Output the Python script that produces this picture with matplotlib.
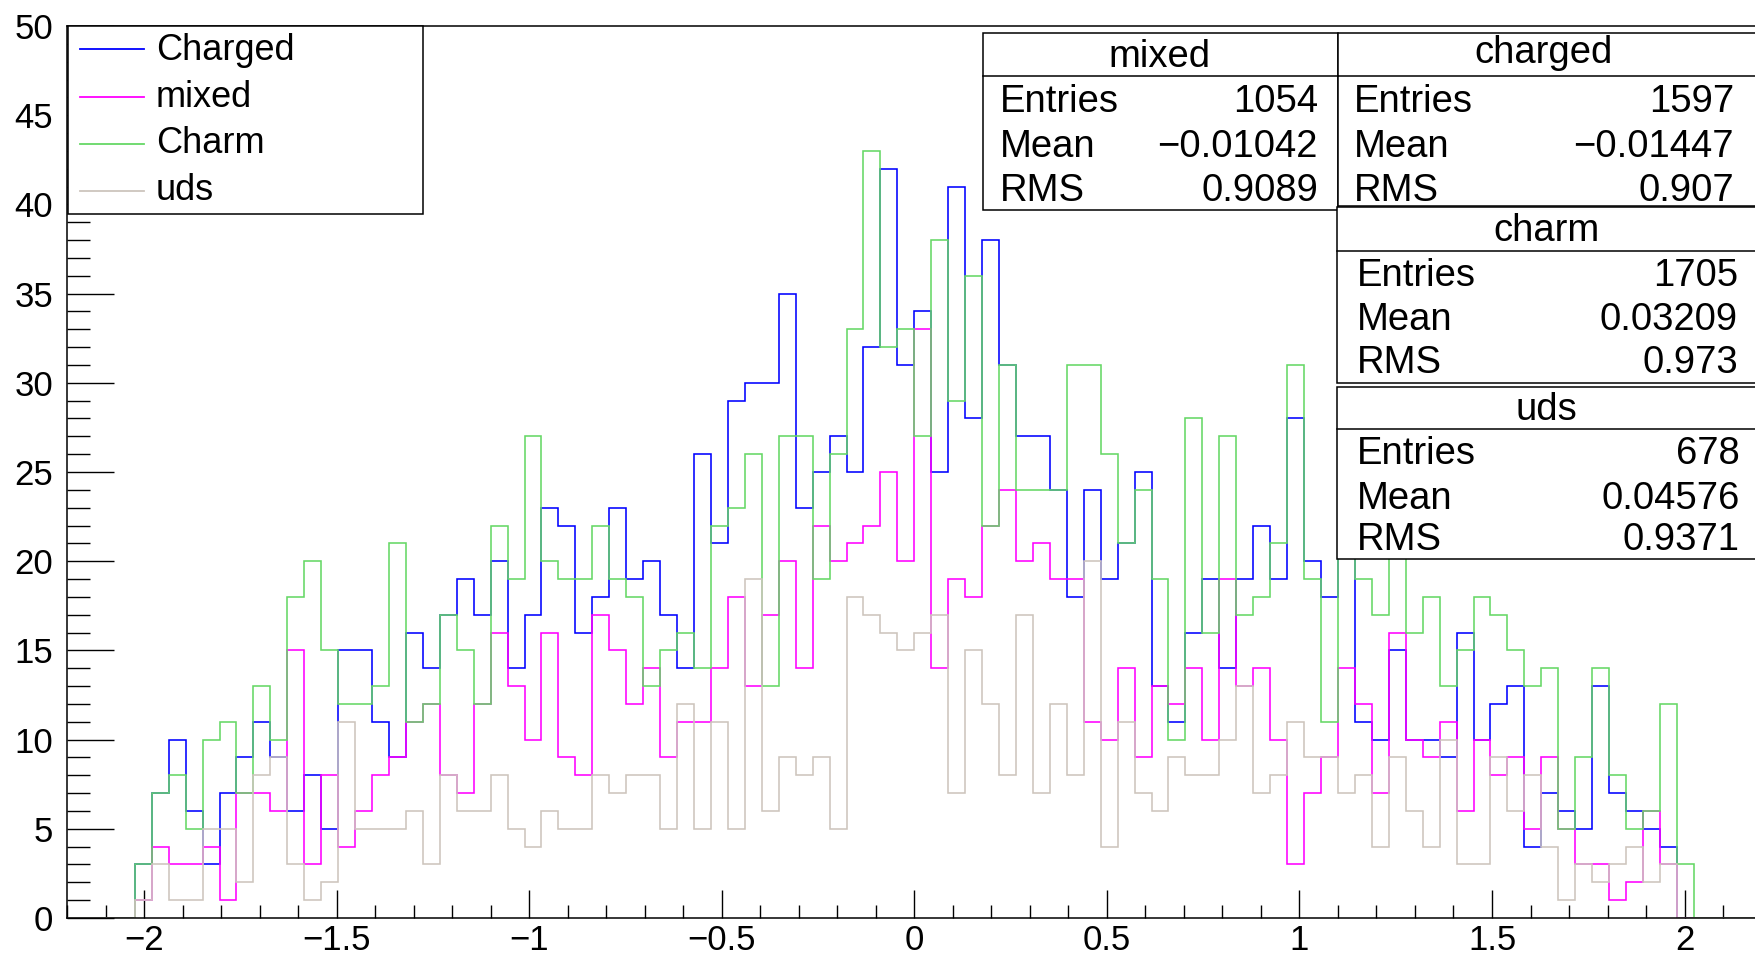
import numpy as np
import matplotlib
matplotlib.use('Agg')
import matplotlib.pyplot as plt
from matplotlib.patches import Rectangle
from matplotlib.lines import Line2D
from matplotlib.ticker import MultipleLocator, FuncFormatter

plt.rcParams['font.family'] = ['Liberation Sans', 'DejaVu Sans']

# ---------------- data (100 bins from -2.2 to 2.2) ----------------
x_min, x_max, n_bins = -2.2, 2.2, 100

charged = [0, 0, 0, 0,
           3, 7, 10, 6, 3, 7, 9, 11, 9, 6,
           8, 5, 15, 15, 11, 9, 16, 14, 17, 19,
           17, 20, 14, 17, 23, 22, 16, 18, 23, 19,
           20, 17, 14, 26, 21, 29, 30, 30, 35, 23,
           25, 27, 25, 32, 42, 31, 34, 25, 41, 28,
           38, 31, 27, 27, 24, 18, 24, 19, 21, 25,
           13, 11, 16, 19, 14, 19, 22, 19, 28, 20, 18,
           27,
           11, 10, 15, 10, 10, 9, 16, 10, 12, 13,
           4, 7, 6, 5, 13, 7, 6, 5, 4, 0,
           0, 0, 0, 0]

mixed = [0, 0, 0, 0,
         1, 4, 3, 3, 4, 1, 7, 7, 6, 15,
         3, 8, 4, 6, 8, 9, 11, 12, 8, 7,
         12, 16, 13, 10, 16, 9, 8, 17, 15, 12,
         14, 9, 11, 11, 14, 18, 13, 17, 20, 14,
         22, 20, 21, 22, 25, 20, 33, 14, 19, 18,
         22, 24, 20, 21, 19, 19, 11, 10, 14, 9,
         13, 12, 14, 10, 19, 13, 14, 10, 3, 7, 9,
         14,
         12, 7, 16, 10, 9, 11, 6, 10, 8, 9,
         5, 9, 5, 3, 3, 1, 2, 6, 3, 0,
         0, 0, 0, 0]

charm = [0, 0, 0, 0,
         3, 7, 8, 5, 10, 11, 7, 13, 10, 18,
         20, 15, 12, 12, 13, 21, 11, 12, 17, 15,
         12, 22, 19, 27, 20, 19, 19, 22, 19, 18,
         13, 15, 16, 14, 22, 23, 26, 13, 27, 27,
         19, 26, 33, 43, 32, 33, 27, 38, 29, 36,
         22, 31, 24, 24, 24, 31, 31, 26, 21, 24,
         19, 10, 28, 16, 27, 17, 18, 21, 31, 19, 11,
         22,
         19, 17, 22, 16, 18, 13, 15, 18, 17, 15,
         13, 14, 5, 9, 14, 8, 5, 6, 12, 3,
         0, 0, 0, 0]

uds = [0, 0, 0, 0,
       1, 3, 1, 1, 5, 5, 2, 8, 9, 3,
       1, 2, 11, 5, 5, 5, 6, 3, 8, 6,
       6, 8, 5, 4, 6, 5, 5, 8, 7, 8,
       8, 5, 12, 5, 11, 5, 19, 6, 9, 8,
       9, 5, 18, 17, 16, 15, 16, 17, 7, 15,
       12, 8, 17, 7, 12, 8, 20, 4, 11, 7,
       6, 9, 8, 8, 10, 13, 7, 8, 11, 9, 9,
       7,
       8, 4, 9, 6, 4, 10, 3, 3, 9, 6,
       8, 4, 1, 3, 2, 3, 4, 2, 3, 0,
       0, 0, 0, 0]

legend_labels = ["Charged", "mixed", "Charm", "uds"]
stat_titles = ["mixed", "charged", "charm", "uds"]
stat_entries = ["1054", "1597", "1705", "678"]
stat_means = ["\u22120.01042", "\u22120.01447", "0.03209", "0.04576"]
stat_rms = ["0.9089", "0.907", "0.973", "0.9371"]

# ---------------- styling ----------------
C_BLUE = '#0000ff'
C_MAG = '#ff00ff'
C_GREEN = '#66d866'
C_GRAY = '#cdc5bd'

W, H = 1756, 957
fig = plt.figure(figsize=(W / 100, H / 100), dpi=100)


def fx(px):
    return px / W


def fy(py):
    return 1 - py / H


ax_left, ax_right, ax_top, ax_bot = 67.0, 1761.6, 26.0, 918.0
ax = fig.add_axes([fx(ax_left), fy(ax_bot), fx(ax_right - ax_left), (ax_bot - ax_top) / H])

edges = np.linspace(x_min, x_max, n_bins + 1)
lw = 1.15
ax.stairs(charged, edges, color=C_BLUE, lw=lw, zorder=2.1, baseline=0)
ax.stairs(mixed, edges, color=C_MAG, lw=lw, zorder=2.2, baseline=0)
ax.stairs(charm, edges, color=C_GREEN, lw=lw, zorder=2.3, baseline=0)
ax.stairs(uds, edges, color=C_GRAY, lw=lw, zorder=2.4, baseline=0)

ax.set_xlim(x_min, x_max)
ax.set_ylim(0, 50)

for s in ax.spines.values():
    s.set_linewidth(1.1)
    s.set_color('black')

ax.xaxis.set_major_locator(MultipleLocator(0.5))
ax.xaxis.set_minor_locator(MultipleLocator(0.1))
ax.yaxis.set_major_locator(MultipleLocator(5))
ax.yaxis.set_minor_locator(MultipleLocator(1))


def fmt(v, pos):
    s = '%g' % round(v, 6)
    if s in ('-0', '-0.0'):
        s = '0'
    return s.replace('-', '\u2212')


ax.xaxis.set_major_formatter(FuncFormatter(fmt))
ax.yaxis.set_major_formatter(FuncFormatter(fmt))

ax.tick_params(axis='both', which='both', direction='in', top=False, right=False,
               width=1.0, color='black', labelsize=25)
ax.tick_params(axis='x', which='major', length=20, pad=4)
ax.tick_params(axis='x', which='minor', length=9.7)
ax.tick_params(axis='y', which='major', length=34, pad=10)
ax.tick_params(axis='y', which='minor', length=16.5)

# ---------------- legend (drawn manually, figure pixel coords) ----------------
def add_rect(x0, y0, x1, y1):
    r = Rectangle((fx(x0), fy(y1)), fx(x1 - x0), (y1 - y0) / H, transform=fig.transFigure,
                  facecolor='white', edgecolor='black', lw=1.1, zorder=10, clip_on=False)
    fig.add_artist(r)


def add_hline(x0, x1, y, color='black', lw_=1.1):
    fig.add_artist(Line2D([fx(x0), fx(x1)], [fy(y), fy(y)], transform=fig.transFigure,
                          color=color, lw=lw_, zorder=11))


def add_text(x, y, s, ha='left', size=25.5):
    fig.text(fx(x), fy(y), s, ha=ha, va='baseline', fontsize=size, color='black', zorder=12)


add_rect(67.7, 26, 423, 214)
leg_colors = [C_BLUE, C_MAG, C_GREEN, C_GRAY]
leg_line_y = [49, 96.7, 144, 191]
leg_text_y = [60, 106.7, 153, 200]
for lab, col, ly, ty in zip(legend_labels, leg_colors, leg_line_y, leg_text_y):
    add_hline(80, 144, ly, color=col, lw_=1.3)
    add_text(156, ty, lab, size=26)

# ---------------- stats boxes ----------------
SF = 27.5
boxes = [
    # x0, x1, top, divider, bottom, title_x, title_base, row_bases, label_x, value_x
    (983, 1338, 33, 76, 209.5, 1160, 67.4, (112, 156.8, 200.7), 1000, 1318),
    (1338, 1762, 33, 76, 206, 1544, 63, (112, 156.8, 200.7), 1353.5, 1734),
    (1337, 1762, 207, 250.5, 383, 1546.5, 241, (285.6, 330.5, 373), 1357, 1738),
    (1337, 1762, 386.7, 428.8, 558.6, 1546.5, 420, (463.9, 508.8, 549.8), 1357, 1740),
]
for i, (bx0, bx1, btop, bdiv, bbot, tx, tb, rows, lx, vx) in enumerate(boxes):
    add_rect(bx0, btop, bx1, bbot)
    add_hline(bx0, bx1, bdiv)
    add_text(tx, tb, stat_titles[i], ha='center', size=SF)
    vals = [stat_entries[i], stat_means[i], stat_rms[i]]
    for lab, val, rb in zip(["Entries", "Mean", "RMS"], vals, rows):
        add_text(lx, rb, lab, size=SF)
        add_text(vx, rb, val, ha='right', size=SF)

fig.savefig('out.png', dpi=100)
